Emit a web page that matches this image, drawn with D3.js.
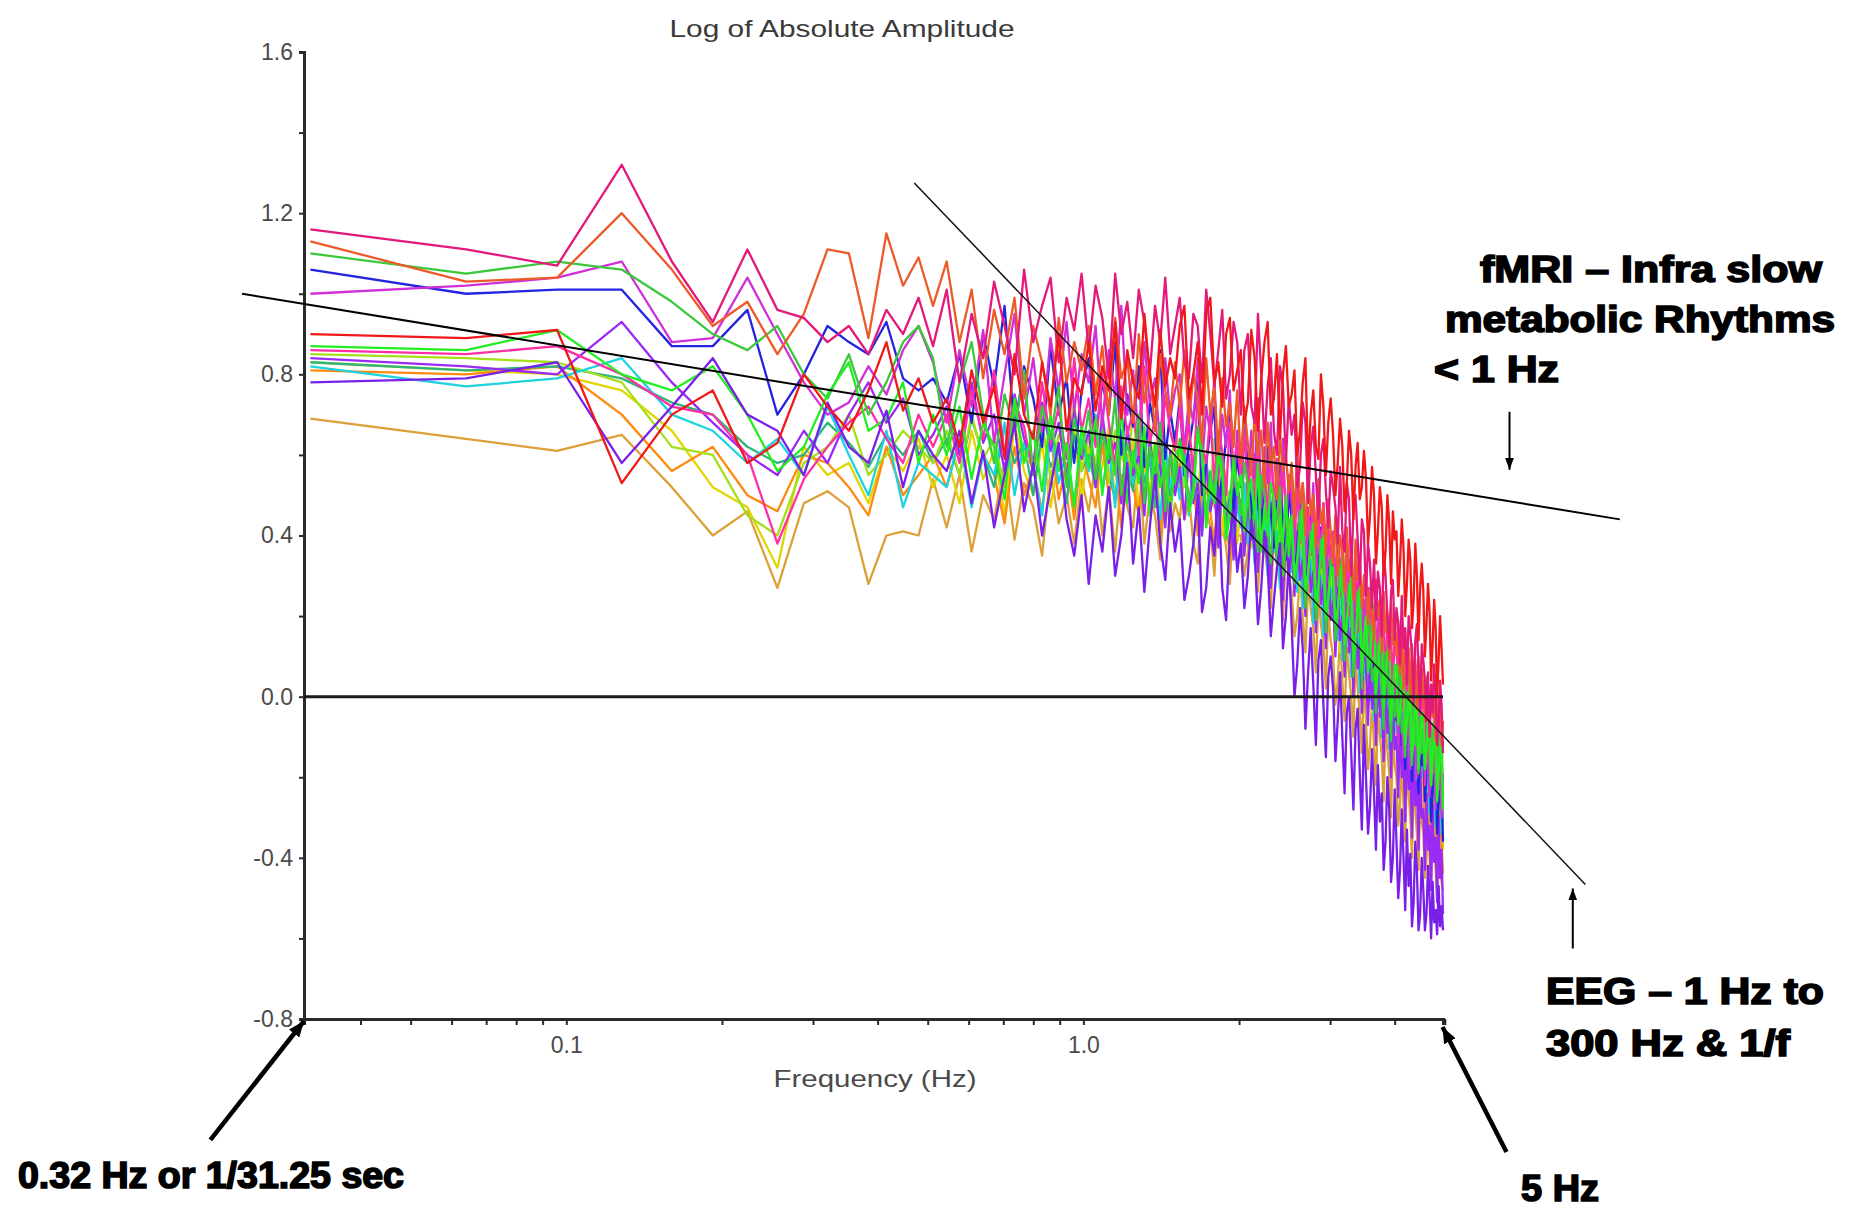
<!DOCTYPE html>
<html><head><meta charset="utf-8">
<script src="https://cdn.jsdelivr.net/npm/d3@7"></script>
<style>
html,body{margin:0;padding:0;background:#fff;}
svg{display:block;}
</style></head><body>
<svg id="chart" width="1850" height="1217"></svg>
<script>
// ---- data ----
const binHz = 0.032; // spectral bin width (1/31.25 s)
const yTicksMajor = [1.6, 1.2, 0.8, 0.4, 0.0, -0.4, -0.8];
const yTicksMinor = [1.4, 1.0, 0.6, 0.2, -0.2, -0.6];
const xTickValues = [0.04,0.05,0.06,0.07,0.08,0.09,0.1,0.2,0.3,0.4,0.5,0.6,0.7,0.8,0.9,1,2,3,4,5];
const xTickLabels = {"0.1":"0.1","1":"1.0"};
const titleText = "Log of Absolute Amplitude";
const xTitleText = "Frequency (Hz)";

// values are log amplitude x 100, one per frequency bin (0.032 Hz steps)
const sPink = [116,111,107,132,108,93,111,96,94,88,92,85,96,90,99,87,
101,78,95,84,103,92,80,106,88,97,104,83,99,91,105,
86,102,94,79,105,90,98,84,101,93,80,97,88,104,85,92,
99,83,79,95,92,78,101,90,77,86,96,74,80,93,88,
70,86,90,72,68,95,80,63,77,84,66,60,82,77,58,74,
65,70,52,57,73,68,48,62,67,55,44,60,64,51,42,56,
52,47,38,57,41,36,53,49,30,46,50,39,28,44,41,
25,38,33,22,34,19,31,27,15,36,30,20,12,26,29,14,
22,18,8,25,12,17,3,20,16,10,-2,14,18,6,-3,13,
9,4,-6,6,-10,3,-4,8,1,-12,-7,4,-2,-14];
const sOrangeRed = [113,103,104,120,106,92,98,85,95,111,110,89,115,102,109,97,
108,88,101,79,96,85,99,74,92,83,70,94,78,88,81,
92,75,87,70,94,79,84,68,90,73,81,66,85,76,70,83,
72,86,68,80,74,63,84,70,77,60,79,67,73,62,76,
58,72,63,55,70,60,66,52,68,57,62,49,65,56,60,51,
58,44,62,48,53,40,57,45,50,37,54,43,47,35,49,41,
33,45,30,40,36,26,42,31,35,24,39,29,33,22,30,
31,18,27,22,14,29,20,24,11,26,16,21,9,23,13,17,
10,19,6,14,2,16,8,12,-1,13,4,9,-3,10,1,7,
2,-6,5,-2,-9,3,-5,0,-11,1,-7,-3,-12,-6];
const sGreen = [110,105,108,106,98,90,86,92,80,74,85,70,78,88,92,84,
62,78,88,70,58,75,66,81,55,72,64,77,52,69,60,
71,54,66,59,74,50,63,57,70,48,62,55,68,46,60,53,
64,59,47,52,67,62,44,56,50,62,58,41,48,60,52,
45,58,53,40,47,36,55,50,42,33,48,44,52,30,37,44,
42,28,33,46,38,22,30,41,35,19,26,39,32,16,24,34,
29,14,20,32,25,9,17,28,22,5,12,26,19,2,16,
10,21,15,4,7,-4,13,9,0,-8,11,5,-2,-11,3,-5,
-2,8,3,-9,-6,-15,1,-3,-10,-17,-1,-12,-7,-19,-5,-14,
-8,-18,-13,-3,-14,-22,-10,-6,-16,-25,-12,-9,-19,-27];
const sBlue = [106,100,101,101,87,87,96,70,80,92,88,85,93,79,76,79,
73,85,68,90,77,97,66,82,74,62,87,70,79,58,76,
84,64,78,70,88,60,75,67,82,57,73,66,86,59,71,63,
74,55,62,69,78,50,58,66,72,47,55,64,70,45,60,
52,66,58,44,60,48,40,57,62,46,37,53,58,43,34,51,
44,30,36,48,41,26,33,45,38,21,29,42,35,18,27,37,
31,16,22,34,27,10,18,30,24,6,13,28,21,3,17,
12,22,16,4,8,-3,14,10,1,-7,11,6,-1,-10,4,-4,
-6,5,0,-12,-9,-18,-2,-6,-13,-21,-4,-9,-15,-24,-8,-17,
-14,-26,-20,-9,-16,-31,-24,-12,-19,-34,-27,-15,-22,-36];
const sViolet = [100,102,104,108,88,89,104,90,78,70,73,82,75,86,92,83,
68,86,72,91,63,80,95,70,84,66,89,76,93,71,85,
78,92,67,86,74,97,70,81,64,88,73,79,62,84,69,76,
80,61,74,68,84,57,72,65,79,54,70,62,76,52,66,
58,71,50,66,55,74,47,62,53,68,44,59,50,64,42,55,
49,36,56,42,50,31,46,39,53,28,44,35,48,26,40,33,
38,24,42,29,35,19,37,26,31,14,34,22,28,11,24,
18,27,9,22,14,3,20,8,16,-2,13,5,10,-5,8,2,
0,-12,6,-7,-15,2,-10,-4,-18,-1,-13,-6,-20,-3,-14,-9,
-11,-22,-6,-17,-25,-9,-19,-14,-28,-12,-23,-16,-30,-19];
const sRed = [90,89,91,53,70,76,58,63,80,72,66,76,88,71,79,68,
74,62,81,68,77,59,85,70,64,83,72,90,66,79,75,
88,71,82,76,93,69,86,78,74,95,80,72,91,77,84,79,
92,97,74,80,88,70,95,99,78,83,72,90,94,76,81,
86,68,73,91,84,66,79,88,93,70,74,85,64,80,87,72,
75,81,60,66,78,84,57,70,76,62,59,80,72,55,68,74,
65,50,58,69,62,46,53,66,60,44,57,63,49,52,61,
54,38,45,57,50,33,41,52,47,30,36,50,43,28,46,39,
41,25,33,44,37,20,28,39,34,17,24,38,30,14,27,33,
26,10,18,28,21,4,13,24,17,0,9,20,12,3];
const sGreen2 = [87,86,91,80,76,82,70,56,62,75,83,66,69,78,58,70,
60,72,54,68,62,49,74,58,66,51,70,56,63,47,67,
57,69,50,64,55,72,48,61,53,67,45,63,52,58,44,60,
62,57,46,50,65,60,42,54,48,60,55,39,45,58,50,
55,41,50,54,44,58,36,47,40,53,49,33,45,38,50,35,
45,30,34,40,48,26,31,37,43,22,28,35,40,19,25,32,
32,18,22,28,35,13,19,25,30,9,15,22,27,6,14,
20,6,10,16,23,1,7,13,18,-3,4,10,15,-6,2,8,
7,-7,-3,3,10,-12,-6,0,5,-15,-9,-3,2,-18,-11,-5,
-4,-18,-13,-8,0,-22,-16,-10,-6,-26,-19,-13,-9,-28];
const sPurple = [78,79,83,58,72,84,70,66,55,73,62,58,71,52,66,60,
56,66,48,61,42,55,68,46,58,40,52,63,44,35,50,
28,45,36,52,30,40,58,33,47,26,42,55,38,29,48,36,
44,24,30,38,50,21,27,42,35,52,27,19,40,46,31,
38,22,30,44,36,18,27,41,33,15,24,32,38,12,20,34,
18,0,8,22,12,-8,6,17,3,-12,9,14,-2,-15,5,10,
2,-16,-6,6,-10,-24,-4,0,-14,-28,-8,-3,-19,-33,-7,
-20,-34,-27,-13,-24,-38,-17,-31,-24,-43,-36,-20,-28,-46,-40,-23,
-36,-50,-43,-28,-40,-53,-33,-47,-39,-57,-51,-36,-43,-58,-54,-40,
-48,-58,-54,-42,-50,-60,-46,-56,-53,-59,-47,-57,-52,-58];
const sCyan = [82,77,79,84,70,66,58,64,55,72,60,50,66,47,58,55,
52,64,47,60,55,68,50,63,57,45,66,53,61,48,64,
56,70,51,62,47,66,58,53,68,49,60,55,44,63,52,58,
49,61,45,57,52,40,59,47,54,38,56,44,50,36,48,
42,53,38,47,33,50,40,45,30,48,36,41,27,44,34,38,
31,42,26,37,22,39,29,34,18,36,25,30,15,33,22,27,
19,30,14,25,9,27,16,21,5,24,12,17,1,20,9,
4,14,-1,9,-6,11,1,6,-10,8,-3,2,-13,5,-6,-1,
-9,2,-14,-4,-18,-1,-11,-7,-22,-4,-15,-10,-25,-7,-18,-13,
-20,-9,-25,-15,-29,-12,-23,-18,-32,-14,-26,-21,-34,-24];
const sGold = [69,64,61,65,52,40,46,27,48,51,47,28,40,41,40,54,
42,55,36,50,44,58,39,53,47,35,56,43,50,38,54,
46,58,40,52,36,55,47,42,60,38,50,45,34,53,41,48,
44,56,50,38,33,52,47,42,30,49,43,37,28,46,40,
40,30,36,45,35,26,42,37,31,22,40,33,28,19,36,30,
26,15,20,31,20,11,28,22,17,6,25,18,13,2,21,14,
10,-2,4,15,4,-6,12,6,0,-10,9,2,-4,-14,5,
-6,-18,-12,-1,-12,-22,-4,-9,-15,-26,-7,-13,-19,-30,-10,-17,
-20,-32,-27,-15,-27,-36,-18,-24,-30,-40,-22,-28,-34,-43,-25,-31,
-34,-45,-40,-29,-40,-48,-32,-38,-43,-50,-35,-41,-46,-48];
const sYellow = [83,81,80,76,66,52,47,32,62,55,58,48,62,56,64,52,
60,48,66,54,61,45,68,56,50,63,47,59,53,66,49,
62,52,57,67,48,61,55,64,46,58,51,63,44,57,53,60,
50,59,45,56,48,62,42,53,47,58,40,51,44,55,38,
48,40,52,37,45,34,49,39,43,30,46,36,41,28,44,33,
36,28,40,25,33,21,37,27,31,18,34,24,29,15,32,22,
23,14,27,11,20,7,24,13,18,3,21,10,16,0,18,
9,-1,13,-4,6,-8,10,0,4,-12,7,-3,2,-15,5,-6,
-5,-15,-1,-18,-8,-21,-4,-14,-10,-24,-7,-17,-12,-27,-9,-20,
-16,-27,-12,-30,-20,-33,-15,-26,-22,-36,-18,-29,-25,-38];
const sYellowGreen = [85,84,83,78,62,60,45,40,58,62,70,55,60,66,62,58,
66,55,70,59,64,52,72,60,57,68,54,65,61,73,56,
64,58,70,53,66,60,56,71,55,62,67,51,64,59,54,66,
60,52,65,55,49,62,57,51,64,47,59,54,45,58,50,
56,45,52,42,58,47,50,39,55,44,48,36,53,41,46,38,
47,36,43,32,49,38,40,28,45,34,37,25,42,31,35,27,
34,22,30,18,36,25,27,14,32,20,24,10,29,17,21,
20,8,16,4,22,11,13,0,18,6,10,-4,15,3,7,-2,
6,-6,2,-10,8,-3,-1,-14,4,-8,-4,-17,1,-11,-7,-15,
-7,-19,-11,-23,-4,-16,-14,-26,-9,-21,-17,-29,-12,-24];
const sOrange = [81,80,82,70,56,62,50,46,60,58,52,45,62,50,55,60,
52,64,48,60,55,43,62,50,57,46,65,49,58,44,61,
54,47,63,50,58,42,60,52,45,62,49,56,40,59,48,53,
58,44,49,55,40,57,52,46,38,54,50,43,35,51,47,
47,36,41,50,40,33,48,44,38,30,46,41,35,27,43,37,
39,28,33,42,31,24,38,34,27,19,36,30,25,14,32,26,
25,12,18,29,17,8,24,19,13,3,22,15,9,-1,18,
10,-3,3,13,1,-7,9,4,-2,-12,6,0,-6,-15,3,-5,
-6,-19,-14,-2,-14,-23,-8,-11,-17,-27,-10,-15,-21,-30,-13,-19,
-22,-34,-29,-18,-29,-38,-24,-27,-32,-42,-26,-31,-36,-44];
const sHotPink = [86,85,87,80,72,70,60,38,54,62,68,72,64,58,70,62,
70,58,76,64,81,60,73,67,55,78,63,72,59,84,66,
74,62,80,68,57,77,65,71,60,82,63,69,58,75,66,61,
72,60,68,55,75,62,58,70,53,66,61,50,68,57,63,
54,65,50,60,47,63,52,57,44,61,49,55,41,58,46,52,
56,42,51,38,53,44,47,35,50,40,45,32,48,37,42,34,
41,30,37,25,39,28,33,20,36,26,31,16,34,22,28,
24,14,27,10,21,16,7,23,12,18,4,20,9,15,1,17,
12,2,14,-3,9,4,-7,11,-1,6,-10,8,-4,3,-13,5,
-2,-12,1,-16,-5,-9,-19,-3,-14,-8,-22,-6,-17,-11];
const sViolet2 = [84,82,80,93,78,68,60,55,66,58,70,78,68,74,60,65,
72,60,78,63,70,56,75,64,58,73,61,68,54,71,59,
66,52,70,58,63,48,67,55,60,45,64,53,58,42,61,50,
57,44,60,48,53,40,58,46,51,37,55,43,49,34,52,
47,35,50,39,44,31,48,36,41,27,45,33,38,24,42,30,
38,25,41,29,34,20,38,26,31,16,35,23,28,12,32,19,
24,10,27,14,20,5,23,11,17,0,21,7,13,-4,16,
8,-7,11,-3,4,-12,7,-5,1,-16,4,-9,-2,-20,0,-13,
-10,-25,-6,-20,-14,-31,-9,-23,-17,-35,-12,-27,-21,-38,-16,-30,
-28,-43,-24,-38,-32,-48,-27,-41,-35,-51,-30,-45,-38,-54];
const sTeal = [83,81,82,79,73,70,62,58,60,68,63,57,65,60,66,58,
64,55,69,60,52,67,58,63,50,66,57,61,48,65,56,
60,52,66,55,49,63,57,51,65,53,59,47,62,55,50,58,
53,60,47,57,51,44,59,49,54,42,56,46,51,40,53,
46,53,41,49,37,51,43,46,34,48,39,44,31,45,36,41,
36,43,30,39,26,41,32,35,22,38,28,33,19,36,25,30,
23,30,17,26,13,28,19,22,9,25,15,20,5,22,12,
9,15,3,12,-1,14,5,8,-5,11,1,6,-8,9,-2,3,
-4,2,-10,-1,-14,0,-7,-4,-17,-2,-11,-6,-20,-5,-13,-9,
-15,-8,-21,-12,-25,-10,-18,-14,-28,-13,-22,-17,-30,-24];

const seriesNames  = ["gold","yellow","orange","teal","yellowGreen","cyan","violet2","blue","violet","hotPink","green","green2","orangeRed","pink","purple","red"];
const seriesValues = [sGold,sYellow,sOrange,sTeal,sYellowGreen,sCyan,sViolet2,sBlue,sViolet,sHotPink,sGreen,sGreen2,sOrangeRed,sPink,sPurple,sRed];
const seriesColors = ["#dca038","#e2d600","#ff8a10","#2fb47a","#a4e01a","#1ed2e0","#9a2af5","#2424e0","#d030d8","#ff2ea6","#3cc83c","#22ee22","#ec5a2a","#e3197b","#7a1fe8","#f01818"];

// reference guide lines (frequency Hz, log amplitude)
const guideShallow = [[0.0236, 1.0], [10.9, 0.44]];
const guideSteep = [[0.471, 1.275], [9.35, -0.466]];
const arrowFmri = [[6.67, 0.707], [6.67, 0.563]];
const arrowEeg = [[8.84, -0.625], [8.84, -0.476]];
const arrowLow = [[0.0205, -1.10], [0.0311, -0.805]];
const arrowHigh = [[6.58, -1.13], [4.95, -0.82]];

const labels = [
  {t:"fMRI \u2013 Infra slow", x:1480, y:282, w:342},
  {t:"metabolic Rhythms", x:1445, y:332, w:390},
  {t:"< 1 Hz", x:1434, y:382, w:125},
  {t:"EEG \u2013 1 Hz to", x:1546, y:1004, w:278},
  {t:"300 Hz & 1/f", x:1546, y:1056, w:244},
  {t:"0.32 Hz or 1/31.25 sec", x:18, y:1188, w:386},
  {t:"5 Hz", x:1521, y:1201, w:78}
];

// ---- chart ----
const svg = d3.select("#chart");
const x = d3.scaleLog().domain([0.0311, 4.96]).range([304, 1443]);
const y = d3.scaleLinear().domain([-0.8, 1.6]).range([1019, 52]);

const FONT = "'Liberation Sans', Arial, Helvetica, sans-serif";

// y axis
const gy = svg.append("g").attr("transform", `translate(${x.range()[0]},0)`)
  .call(d3.axisLeft(y).tickValues(yTicksMajor).tickFormat(d => d.toFixed(1)).tickSize(5).tickPadding(6));
const gyMinor = svg.append("g").attr("transform", `translate(${x.range()[0]},0)`)
  .call(d3.axisLeft(y).tickValues(yTicksMinor).tickFormat("").tickSize(5));
gyMinor.select(".domain").remove();

// x axis
const gx = svg.append("g").attr("transform", `translate(0,${y(-0.8)})`)
  .call(d3.axisBottom(x).tickValues(xTickValues).tickFormat(d => xTickLabels[String(d)] || "").tickSize(6).tickPadding(12));

[gy, gyMinor, gx].forEach(g => {
  g.select(".domain").attr("stroke", "#2a2a2a").attr("stroke-width", 3);
  g.selectAll(".tick line").attr("stroke", "#2a2a2a").attr("stroke-width", 2);
  g.selectAll(".tick text").attr("fill", "#4a4a4a").style("font-family", FONT).style("font-size", "23px");
});

// series lines
const line = d3.line().x(d => x(d[0])).y(d => y(d[1]));
const gLines = svg.append("g").attr("fill", "none").attr("stroke-width", 2.3).attr("stroke-linejoin", "round");
seriesValues.forEach((vals, si) => {
  const pts = vals.map((v, i) => [(i + 1) * binHz, v / 100]);
  gLines.append("path").datum(pts).attr("stroke", seriesColors[si]).attr("d", line)
    .attr("data-name", seriesNames[si]);
});

// zero line
svg.append("path").datum([[x.domain()[0], 0], [x.domain()[1], 0]])
  .attr("d", line).attr("stroke", "#1a1a1a").attr("stroke-width", 3).attr("fill", "none");

// guide lines
svg.append("path").datum(guideShallow).attr("d", line).attr("stroke", "#000").attr("stroke-width", 2).attr("fill", "none");
svg.append("path").datum(guideSteep).attr("d", line).attr("stroke", "#111").attr("stroke-width", 1.5).attr("fill", "none");

// arrow markers
const defs = svg.append("defs");
function marker(id, len, wid) {
  defs.append("marker").attr("id", id).attr("markerUnits", "userSpaceOnUse")
    .attr("viewBox", `0 0 ${len} ${wid}`).attr("refX", len).attr("refY", wid / 2)
    .attr("markerWidth", len).attr("markerHeight", wid).attr("orient", "auto")
    .append("path").attr("d", `M0,0L${len},${wid / 2}L0,${wid}Z`).attr("fill", "#000");
}
marker("headThin", 12, 9);
marker("headThick", 16, 13);
[[arrowFmri, 2, "headThin"], [arrowEeg, 2, "headThin"], [arrowLow, 4.5, "headThick"], [arrowHigh, 4.5, "headThick"]]
  .forEach(([pts, w, m]) => {
    svg.append("path").datum(pts).attr("d", line).attr("stroke", "#000").attr("stroke-width", w)
      .attr("fill", "none").attr("marker-end", `url(#${m})`);
  });

// title and axis title
svg.append("text").attr("x", 842).attr("y", 37).attr("text-anchor", "middle")
  .attr("textLength", 345).attr("lengthAdjust", "spacingAndGlyphs")
  .style("font-family", FONT).style("font-size", "24px").attr("fill", "#3a3a3a").text(titleText);
svg.append("text").attr("x", 875).attr("y", 1087).attr("text-anchor", "middle")
  .attr("textLength", 203).attr("lengthAdjust", "spacingAndGlyphs")
  .style("font-family", FONT).style("font-size", "24px").attr("fill", "#4a4a4a").text(xTitleText);

// annotation labels
labels.forEach(l => {
  svg.append("text").attr("x", l.x).attr("y", l.y)
    .attr("textLength", l.w).attr("lengthAdjust", "spacingAndGlyphs")
    .style("font-family", FONT).style("font-size", "36px").style("font-weight", "bold")
    .attr("fill", "#000").attr("stroke", "#000").attr("stroke-width", 1.6)
    .text(l.t);
});
</script>
</body></html>
